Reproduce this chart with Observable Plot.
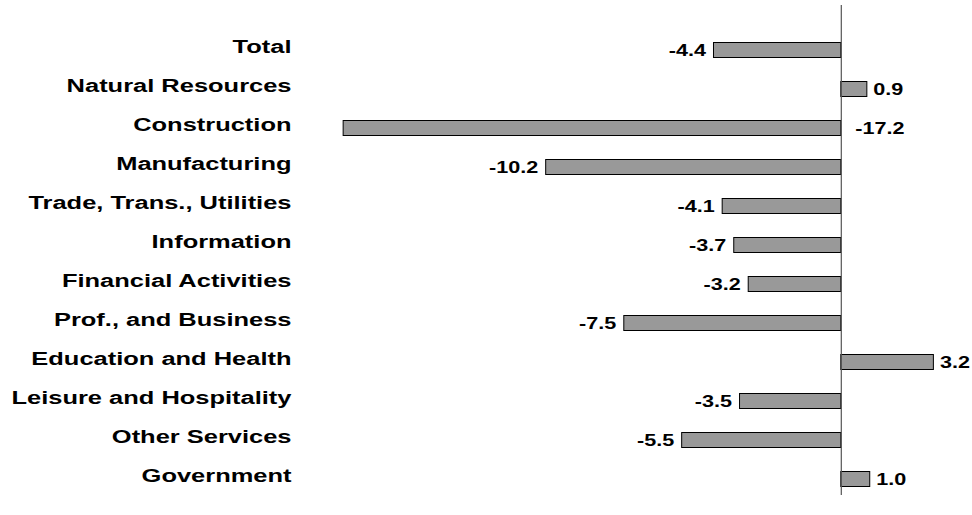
<!DOCTYPE html>
<html>
<head>
<meta charset="utf-8">
<script src="https://cdn.jsdelivr.net/npm/d3@7"></script>
<script src="https://cdn.jsdelivr.net/npm/@observablehq/plot@0.6"></script>
<style>
  html, body { margin: 0; padding: 0; background: #ffffff; }
  #chart svg { display: block; }
</style>
</head>
<body>
<div id="chart"></div>
<script>
const categories = [
  "Total",
  "Natural Resources",
  "Construction",
  "Manufacturing",
  "Trade, Trans., Utilities",
  "Information",
  "Financial Activities",
  "Prof., and Business",
  "Education and Health",
  "Leisure and Hospitality",
  "Other Services",
  "Government"
];
const values = [-4.4, 0.9, -17.2, -10.2, -4.1, -3.7, -3.2, -7.5, 3.2, -3.5, -5.5, 1.0];
const valueLabels = ["-4.4", "0.9", "-17.2", "-10.2", "-4.1", "-3.7", "-3.2", "-7.5", "3.2", "-3.5", "-5.5", "1.0"];

const data = categories.map((c, i) => ({cat: c, v: values[i], label: valueLabels[i]}));

const LABEL_SCALE = 1.34;
const VALUE_SCALE = 1.35;

const plot = Plot.plot({
  width: 972,
  height: 515,
  marginLeft: 320,
  marginRight: 1,
  marginTop: 30.5,
  marginBottom: 16.5,
  style: {fontFamily: "'Liberation Sans', Arial, sans-serif", background: "#ffffff", color: "#000"},
  x: {domain: [-18, 4.5], axis: null},
  y: {type: "band", domain: categories, padding: 0, round: false, axis: null},
  marks: [
    Plot.barX(data, {x: "v", y: "cat", fill: "#999999", stroke: "#000", strokeWidth: 1, insetTop: 12, insetBottom: 12}),
    Plot.ruleX([0], {stroke: "#555", strokeWidth: 1.2, insetTop: -25.5, insetBottom: 3.5}),
    Plot.text(data, {y: "cat", text: "cat", frameAnchor: "left", textAnchor: "end", dx: -29, dy: -3.5,
      fontSize: 19, fontWeight: "bold", fill: "#000", className: "cat-label"}),
    Plot.text(data.filter(d => d.v < 0 && d.v > -15), {x: "v", y: "cat", text: "label", textAnchor: "end", dx: -8,
      fontSize: 16, fontWeight: "bold", fill: "#000", className: "val-label"}),
    Plot.text(data.filter(d => d.v >= 0), {x: "v", y: "cat", text: "label", textAnchor: "start", dx: 6,
      fontSize: 16, fontWeight: "bold", fill: "#000", className: "val-label"}),
    Plot.text(data.filter(d => d.v <= -15), {x: () => 0, y: "cat", text: "label", textAnchor: "start", dx: 14,
      fontSize: 16, fontWeight: "bold", fill: "#000", className: "val-label"})
  ]
});

function stretch(sel, k) {
  plot.querySelectorAll(sel + " text").forEach(t => {
    const tr = t.getAttribute("transform");
    if (tr) {
      t.setAttribute("transform", tr + ` scale(${k},1)`);
    } else {
      const x = +t.getAttribute("x") || 0;
      t.setAttribute("transform", `translate(${x},0) scale(${k},1) translate(${-x},0)`);
    }
  });
}
stretch(".cat-label", LABEL_SCALE);
stretch(".val-label", VALUE_SCALE);

document.getElementById("chart").appendChild(plot);
</script>
</body>
</html>
